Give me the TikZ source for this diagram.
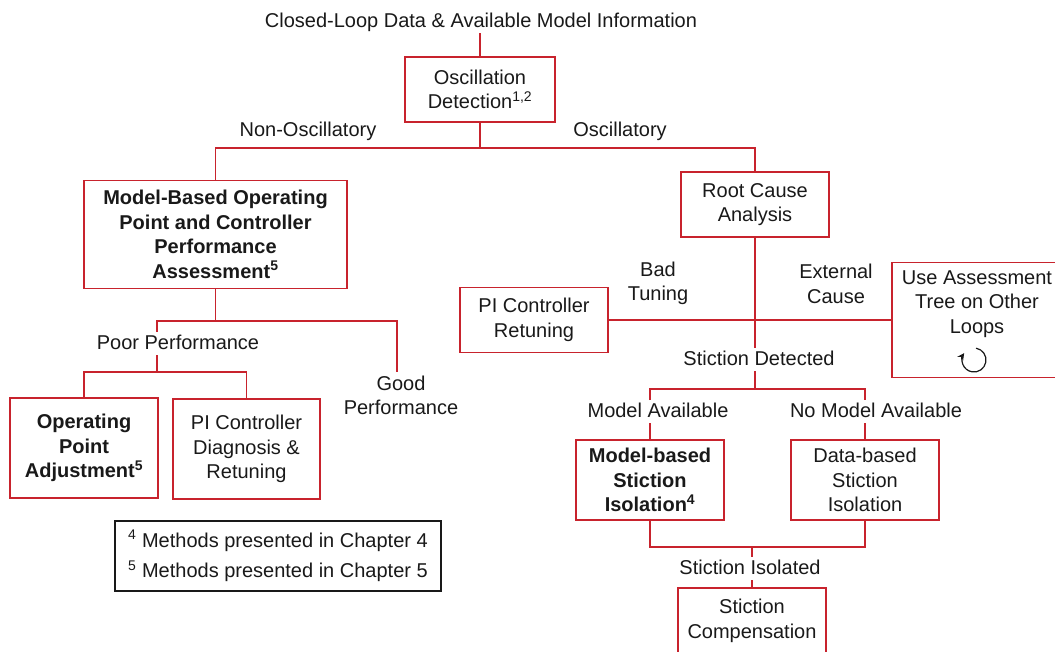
\documentclass[tikz,border=0pt]{standalone}
\usepackage{fontspec}
\setmainfont{Liberation Sans}
\usetikzlibrary{arrows.meta}
\definecolor{boxred}{RGB}{200,35,45}
\definecolor{ink}{RGB}{25,25,25}
\begin{document}
\begin{tikzpicture}[x=1pt,y=-1pt,
  every node/.style={font=\fontsize{20}{24.5}\selectfont, text=ink, inner sep=0pt},
  box/.style={draw=boxred, line width=1.4pt, align=center},
  boldbox/.style={box, font=\fontsize{20}{24.5}\selectfont\bfseries},
  lbl/.style={inner sep=2pt, text height=15pt, text depth=4pt},
  mlbl/.style={align=center},
  link/.style={draw=boxred, line width=1.4pt}]
\useasboundingbox (0,0) rectangle (1055,652);
\clip (0,0) rectangle (1055,652);

% ---- top level
\node[lbl] (title) at (481,21.75) {Closed-Loop Data \& Available Model Information};
\node[box, minimum width=150, minimum height=65] (osc) at (480,89.5) {Oscillation\\Detection\textsuperscript{1,2}};
\coordinate (split) at (480,148);
\draw[link] (title.south -| osc.north) -- (osc.north);
\draw[link] (osc.south) -- (split);
\node[lbl] (nonosc) at (308,130.75) {Non-Oscillatory};
\node[lbl] (oscl) at (620,130.75) {Oscillatory};

% ---- non-oscillatory branch
\node[boldbox, minimum width=263, minimum height=108] (mb) at (215.5,234.5) {Model-Based Operating\\Point and Controller\\Performance\\Assessment\textsuperscript{5}};
\node[lbl] (pp) at (178,343.75) {Poor Performance};
\node[mlbl] (gp) at (401,395.5) {Good\\Performance};
\node[boldbox, minimum width=148, minimum height=100] (opa) at (84,448) {Operating\\Point\\Adjustment\textsuperscript{5}};
\node[box, minimum width=147, minimum height=100] (pid) at (246.5,449) {PI Controller\\Diagnosis \&\\Retuning};
\coordinate (ppl) at (157,321);
\coordinate (gpr) at (397,321);
\coordinate (gpend) at (397,372);
\coordinate (ppj) at (157,372);

% ---- oscillatory branch
\node[box, minimum width=148, minimum height=65] (rca) at (755,204.5) {Root Cause\\Analysis};
\node[box, minimum width=148, minimum height=65] (pir) at (534,320) {PI Controller\\Retuning};
\node[box, minimum width=170, minimum height=115] (use) at (977,320) {};
\node[mlbl] (usetxt) at (977,304) {Use Assessment\\Tree on Other\\Loops};
\node[mlbl] (bad) at (658,283.5) {Bad\\Tuning};
\node[mlbl] (ext) at (836,284) {External\\Cause};
\node[lbl] (sd) at (759,359.75) {Stiction Detected};
\coordinate (sdj) at (755,389);
\node[lbl] (ma) at (658,411.75) {Model Available};
\node[lbl] (nma) at (876,411.75) {No Model Available};
\node[boldbox, minimum width=148, minimum height=80] (mbs) at (650,480) {Model-based\\Stiction\\Isolation\textsuperscript{4}};
\node[box, minimum width=148, minimum height=80] (dbs) at (865,480) {Data-based\\Stiction\\Isolation};
\coordinate (isj) at (752,547);
\node[lbl] (si) at (750,568.75) {Stiction Isolated};
\node[box, minimum width=148, minimum height=66] (sc) at (752,621) {Stiction\\Compensation};

% ---- footnote legend
\node[draw=ink, line width=1.4pt, minimum width=326, minimum height=70, align=left] (legend) at (278,556)
  {\textsuperscript{4} Methods presented in Chapter 4\\[6pt]\textsuperscript{5} Methods presented in Chapter 5};

% ---- connectors
\draw[link] (mb.north) |- (split) -| (rca.north);
\draw[link] (mb.south) -- (mb.south |- ppl);
\draw[link] (ppl |- pp.north) -- (ppl) -- (gpr) -- (gpend);
\draw[link] (ppl |- pp.south) -- (ppj);
\draw[link] (opa.north) |- (ppj) -| (pid.north);

\draw[link] (rca.south) -- (rca.south |- sd.north);
\draw[link] (pir.east) -- (use.west);
\draw[link] (sd.south -| sdj) -- (sdj);
\draw[link] (ma.north -| mbs.north) |- (sdj) -| (dbs.north |- nma.north);
\draw[link] (mbs.north) -- (mbs.north |- ma.south);
\draw[link] (dbs.north) -- (dbs.north |- nma.south);
\draw[link] (mbs.south) |- (isj) -| (dbs.south);
\draw[link] (isj) -- (isj |- si.north);
\draw[link] (si.south -| sc.north) -- (sc.north);

% ---- repeat symbol
\coordinate (loopc) at (974,360);
\draw[ink, line width=1.2pt, -{Stealth[length=7pt,width=7pt]}] (loopc) ++(-80:12) arc[start angle=-80, end angle=215, radius=12];
\end{tikzpicture}
\end{document}
